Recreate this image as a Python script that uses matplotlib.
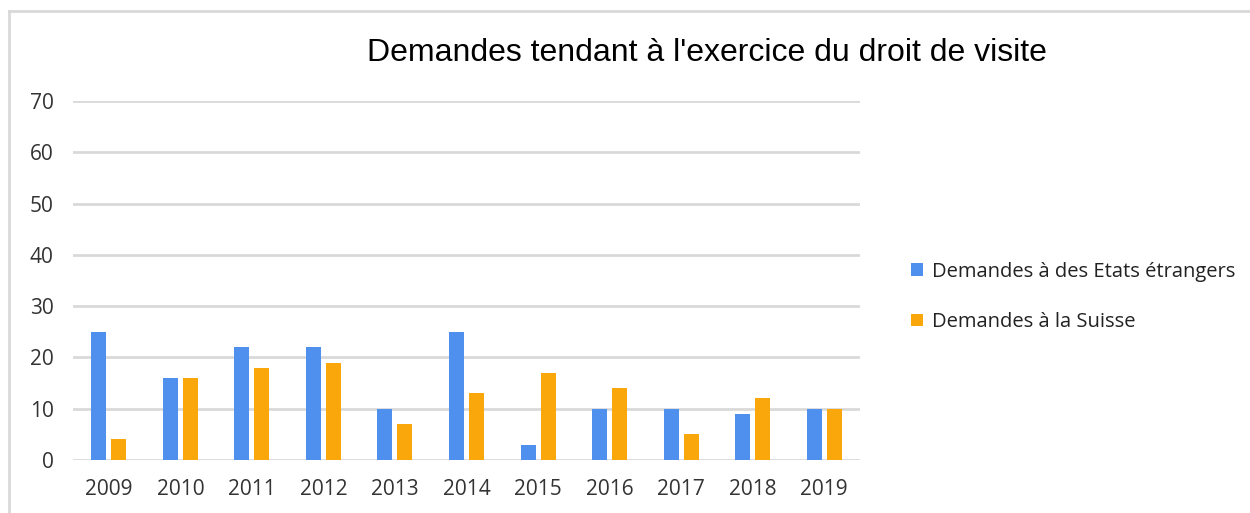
import numpy as np
import matplotlib
matplotlib.use("Agg")
import matplotlib.pyplot as plt
from matplotlib.lines import Line2D

years = ["2009", "2010", "2011", "2012", "2013", "2014", "2015", "2016", "2017", "2018", "2019"]
etats_etrangers = [25, 16, 22, 22, 10, 25, 3, 10, 10, 9, 10]
suisse = [4, 16, 18, 19, 7, 13, 17, 14, 5, 12, 10]

series_names = ["Demandes à des Etats étrangers", "Demandes à la Suisse"]
title = "Demandes tendant à l'exercice du droit de visite"

blue = "#4F8FEE"
orange = "#FAA70B"
grid_grey = "#D9D9D9"

fig = plt.figure(figsize=(12.5, 5.13), dpi=100)
ax = fig.add_axes([73 / 1250, 1 - 460 / 513, (860 - 73) / 1250, (460 - 101) / 513])

x = np.arange(len(years))
w = 0.21
b1 = ax.bar(x - 0.14, etats_etrangers, width=w, color=blue, label=series_names[0], zorder=3)
b2 = ax.bar(x + 0.14, suisse, width=w, color=orange, label=series_names[1], zorder=3)

ax.set_xlim(-0.5, len(years) - 0.5)
ax.set_ylim(0, 70)
ax.set_yticks(np.arange(0, 71, 10))
ax.set_xticks(x, labels=years)
ax.yaxis.grid(True, color=grid_grey, linewidth=2, zorder=0)
ax.set_axisbelow(True)
for s in ax.spines.values():
    s.set_visible(False)
ax.tick_params(length=0, labelsize=15, labelcolor="#333333")
ax.tick_params(axis="x", pad=14)
ax.tick_params(axis="y", pad=14)
for lab in ax.get_xticklabels() + ax.get_yticklabels():
    lab.set_family("Open Sans")

fig.text(707 / 1250, 1 - 53 / 513, title, ha="center", va="center",
         fontsize=23, family="Liberation Sans", color="#000000")

leg = fig.legend(handles=[b1, b2], loc="center left",
                 bbox_to_anchor=(893 / 1250, 1 - 297 / 513),
                 frameon=False, handlelength=0.6, handleheight=0.6,
                 handletextpad=0.45, labelspacing=1.5,
                 prop={"family": "Open Sans", "size": 14.5})
for t in leg.get_texts():
    t.set_color("#222222")

# thin grey frame on top and left
fig.add_artist(Line2D([9 / 1250, 1], [1 - 11 / 513, 1 - 11 / 513], color=grid_grey, linewidth=2))
fig.add_artist(Line2D([9 / 1250, 9 / 1250], [0, 1 - 11 / 513], color=grid_grey, linewidth=2))

fig.savefig("out.png", dpi=100)
